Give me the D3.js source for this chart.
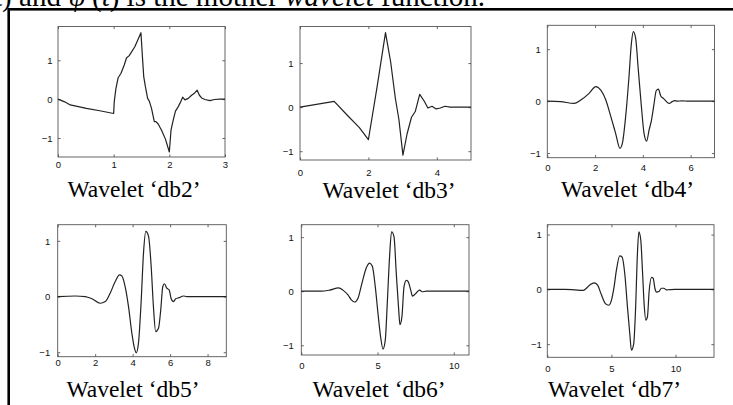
<!DOCTYPE html>
<html>
<head>
<meta charset="utf-8">
<script src="https://cdn.jsdelivr.net/npm/d3@7"></script>
<style>
  html, body { margin: 0; padding: 0; background: #fff; }
  svg { display: block; }
</style>
</head>
<body>
<svg id="chart" width="733" height="405"></svg>
<script>
// ---------------- data ----------------
const names = ["db2", "db3", "db4", "db5", "db6", "db7"];

const db2 = [[0,0],[0.12,-0.07],[0.22,-0.15],[0.51,-0.24],[0.75,-0.30],[1.0,-0.37],
  [1.01,-0.07],[1.04,0.27],[1.08,0.55],[1.13,0.66],[1.19,0.88],[1.23,1.06],[1.28,1.12],
  [1.38,1.35],[1.49,1.71],[1.515,1.13],[1.54,0.58],[1.57,0.32],[1.61,0.02],[1.64,-0.05],
  [1.68,-0.24],[1.73,-0.58],[1.76,-0.58],[1.80,-0.64],[1.86,-0.80],[1.93,-1.03],[2.0,-1.36],
  [2.03,-0.80],[2.07,-0.54],[2.11,-0.31],[2.15,-0.22],[2.19,-0.11],[2.24,0.05],[2.28,-0.02],
  [2.34,0.02],[2.40,0.10],[2.45,0.15],[2.50,0.23],[2.54,0.10],[2.58,0.03],[2.64,-0.01],
  [2.73,-0.04],[2.81,-0.01],[2.91,0],[3,0]];

const db3 = [[0,0],[1.0,0.13],[1.39,-0.19],[1.73,-0.46],[2.0,-0.74],[2.26,0.49],[2.5,1.69],
  [2.65,1.03],[2.79,0.19],[2.89,-0.27],[3.01,-1.09],[3.13,-0.61],[3.26,-0.23],[3.37,-0.1],
  [3.5,0.29],[3.63,0.14],[3.74,-0.02],[3.86,0.02],[3.98,-0.04],[4.1,-0.02],[4.24,0.02],
  [4.39,0],[5,0]];

const db4 = [[0,0],[0.56,-0.01],[1.12,-0.045],[1.4,0.02],[1.75,0.15],[2.03,0.28],[2.24,0.21],
  [2.45,0.02],[2.66,-0.3],[2.86,-0.62],[3.04,-0.91],[3.14,-0.82],[3.28,-0.3],[3.42,0.47],
  [3.52,1.11],[3.6,1.34],[3.7,1.21],[3.8,0.66],[3.94,-0.11],[4.05,-0.62],[4.16,-0.77],
  [4.26,-0.56],[4.36,-0.37],[4.47,-0.05],[4.56,0.2],[4.65,0.23],[4.75,0.1],[4.84,0.06],
  [4.93,0.02],[5.1,-0.045],[5.23,-0.01],[5.33,0.01],[5.44,0],[5.65,0.005],[5.86,0],[7,0]];

const db5 = [[0,0],[0.94,0.01],[1.47,0],[1.83,-0.04],[2.27,-0.12],[2.54,-0.09],[2.8,0.06],
  [3.07,0.27],[3.3,0.39],[3.42,0.37],[3.6,0.18],[3.78,-0.18],[3.96,-0.66],[4.1,-0.93],
  [4.19,-1.01],[4.31,-0.84],[4.45,-0.12],[4.58,0.78],[4.7,1.17],[4.85,1.08],[4.99,0.54],
  [5.11,-0.18],[5.23,-0.63],[5.38,-0.57],[5.5,-0.24],[5.61,0.18],[5.7,0.23],[5.82,0.15],
  [5.95,0.12],[6.05,-0.03],[6.18,-0.09],[6.3,-0.04],[6.48,-0.02],[6.71,0.01],[6.89,0],[9,0]];

const db6 = [[0,0],[1.31,0],[1.86,0.02],[2.45,0.06],[2.73,0.02],[3.06,-0.07],[3.28,-0.16],
  [3.5,-0.2],[3.72,-0.13],[3.98,0.15],[4.26,0.43],[4.48,0.52],[4.66,0.46],[4.85,0.09],
  [5.03,-0.41],[5.2,-0.84],[5.36,-1.07],[5.51,-0.9],[5.64,-0.22],[5.79,0.64],[5.92,1.1],
  [6.08,1.01],[6.23,0.33],[6.39,-0.35],[6.47,-0.62],[6.6,-0.47],[6.74,0.09],[6.89,0.2],
  [7.0,0.18],[7.18,0.02],[7.29,-0.09],[7.48,-0.05],[7.61,-0.01],[7.77,0.02],[7.92,-0.01],
  [8.2,0],[11,0]];

const db7 = [[0,0],[1.35,0],[2.14,-0.01],[2.79,-0.02],[3.05,0.02],[3.36,0.09],[3.65,0.12],
  [3.91,0.08],[4.22,-0.1],[4.53,-0.26],[4.79,-0.29],[5.0,-0.2],[5.21,0.05],[5.39,0.35],
  [5.65,0.61],[5.83,0.59],[6.04,0.29],[6.25,-0.32],[6.43,-0.8],[6.56,-1.11],[6.74,-0.99],
  [6.88,-0.38],[7.03,0.66],[7.14,1.05],[7.29,0.9],[7.42,0.35],[7.55,-0.26],[7.68,-0.56],
  [7.81,-0.5],[7.94,-0.04],[8.13,0.22],[8.26,0.2],[8.39,0.02],[8.52,-0.05],[8.7,-0.04],
  [8.9,0.02],[9.09,0.02],[9.3,-0.01],[9.56,-0.005],[9.95,0],[13,0]];

const series = [db2, db3, db4, db5, db6, db7];

const xDomains = [[0,3],[0,5],[0,7],[0,9],[0,11],[0,13]];
const yDomains = [[-1.49,1.87],[-1.2,1.83],[-1.09,1.46],[-1.08,1.29],[-1.18,1.23],[-1.24,1.18]];
const xTicks = [[0,1,2,3],[0,2,4],[0,2,4,6],[0,2,4,6,8],[0,5,10],[0,5,10]];
const yTicks = [[-1,0,1],[-1,0,1],[-1,0,1],[-1,0,1],[-1,0,1],[-1,0,1]];
const smooth = [false, false, true, true, true, true];

// ---------------- layout (pixels) ----------------
const boxes = [
  [58,26.5,225,157], [300,26.5,471,160], [547.3,25.3,714.5,157.7],
  [57.7,224.7,226.3,356.7], [301.3,224.7,469,355], [547.3,224.7,714,357.3]
];
const xLabelOffset = [11, 15.8, 13.4, 9.4, 13.5, 15.2];
const yLabelGap = [5.5, 6.5, 6.5, 7.5, 7.5, 5.5];
const titlePos = [[134,197],[389,197.5],[627.5,197],[133,396.5],[379,396.5],[614.5,396.5]];

const svg = d3.select("#chart");

// header text line, cut off at the top
const header = svg.append("text")
  .attr("x", 485).attr("y", 5.5)
  .attr("text-anchor", "end")
  .style("font-family", "'Liberation Serif','Times New Roman',serif")
  .style("font-size", "29px")
  .attr("fill", "#000");
header.append("tspan").text("(t) and ");
header.append("tspan").style("font-style", "italic").text("ψ");
header.append("tspan").text("\u2009(");
header.append("tspan").style("font-style", "italic").text("t");
header.append("tspan").text(") is the mother ");
header.append("tspan").style("font-style", "italic").text("wavelet");
header.append("tspan").text(" function.");

// outer frame
svg.append("rect")
  .attr("x", 8.7).attr("y", 9.3).attr("width", 740).attr("height", 420)
  .attr("fill", "none").attr("stroke", "#000").attr("stroke-width", 2.6);

names.forEach((name, i) => {
  const [bx0, by0, bx1, by1] = boxes[i];
  const x = d3.scaleLinear().domain(xDomains[i]).range([bx0, bx1]);
  const y = d3.scaleLinear().domain(yDomains[i]).range([by1, by0]);
  const g = svg.append("g");

  const tickLen = 2.6;
  const axB = g.append("g").attr("transform", `translate(0,${by1})`)
    .call(d3.axisBottom(x).tickValues(xTicks[i]).tickSize(-tickLen).tickPadding(0).tickFormat(d3.format("d")));
  const axT = g.append("g").attr("transform", `translate(0,${by0})`)
    .call(d3.axisTop(x).tickValues(xTicks[i]).tickSize(-tickLen).tickFormat(""));
  const axL = g.append("g").attr("transform", `translate(${bx0},0)`)
    .call(d3.axisLeft(y).tickValues(yTicks[i]).tickSize(-tickLen).tickPadding(0)
      .tickFormat(d => d < 0 ? "\u2212" + Math.abs(d) : String(d)));
  const axR = g.append("g").attr("transform", `translate(${bx1},0)`)
    .call(d3.axisRight(y).tickValues(yTicks[i]).tickSize(-tickLen).tickFormat(""));

  [axB, axT, axL, axR].forEach(a => {
    a.select(".domain").remove();
    a.selectAll("line").attr("stroke", "#555").attr("stroke-width", 0.9);
  });
  axB.selectAll("text")
    .attr("y", xLabelOffset[i]).attr("dy", null)
    .style("font-family", "'Liberation Sans',Arial,Helvetica,sans-serif")
    .style("font-size", "9.5px").attr("fill", "#111");
  axL.selectAll("text")
    .attr("x", -yLabelGap[i]).attr("dy", "0.35em")
    .style("font-family", "'Liberation Sans',Arial,Helvetica,sans-serif")
    .style("font-size", "9.5px").attr("fill", "#111");

  g.append("rect")
    .attr("x", bx0).attr("y", by0).attr("width", bx1 - bx0).attr("height", by1 - by0)
    .attr("fill", "none").attr("stroke", "#555").attr("stroke-width", 0.9);

  const line = d3.line()
    .x(d => x(d[0])).y(d => y(d[1]))
    .curve(smooth[i] ? d3.curveMonotoneX : d3.curveLinear);
  g.append("path")
    .datum(series[i])
    .attr("d", line)
    .attr("fill", "none").attr("stroke", "#222").attr("stroke-width", 1.2)
    .attr("stroke-linejoin", "round");

  svg.append("text")
    .attr("x", titlePos[i][0]).attr("y", titlePos[i][1])
    .attr("text-anchor", "middle")
    .style("font-family", "'Liberation Serif','Times New Roman',serif")
    .style("font-size", "23.5px").attr("fill", "#000")
    .text(`Wavelet \u2018${name}\u2019`);
});
</script>
</body>
</html>
